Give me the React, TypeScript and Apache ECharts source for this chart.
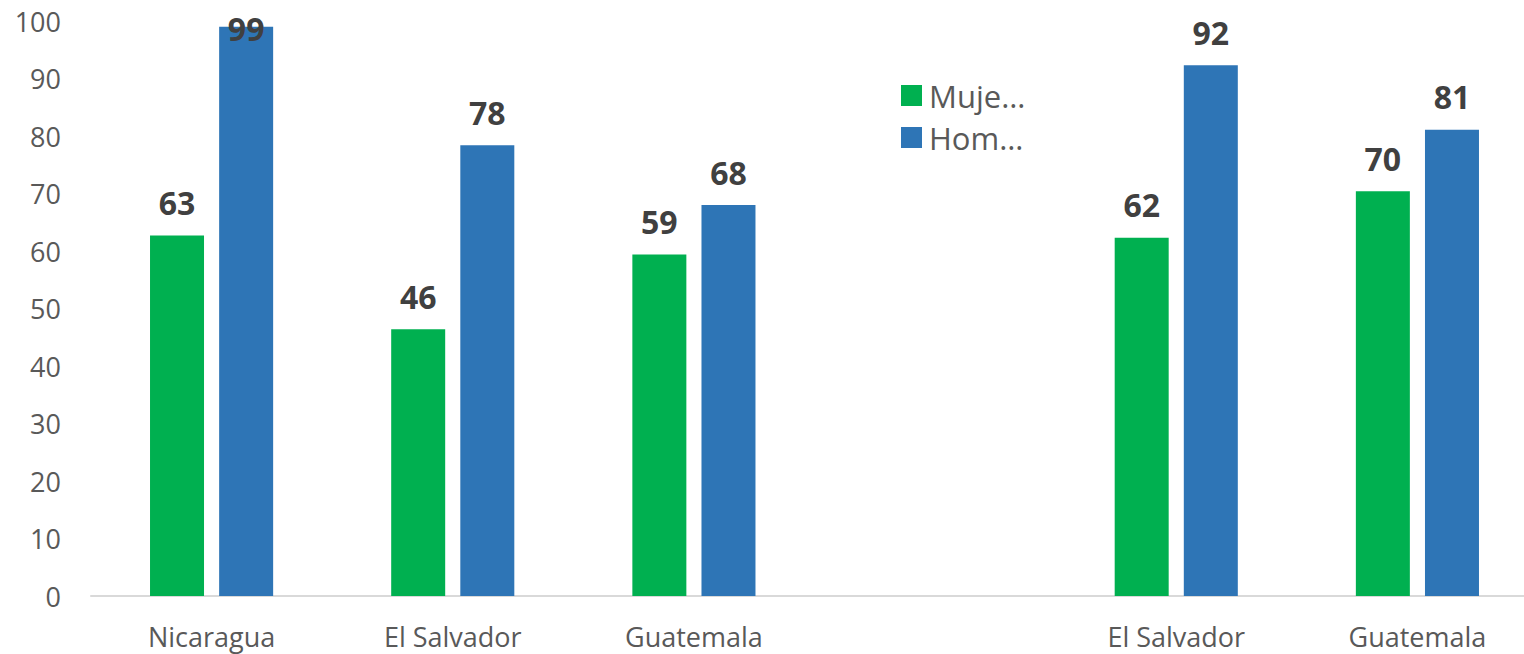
import React, { useEffect, useRef } from "react";
import * as echarts from "echarts";

const categories = ["Nicaragua", "El Salvador", "Guatemala", "", "El Salvador", "Guatemala"];
const mujeres: (number | null)[] = [62.7, 46.4, 59.4, null, 62.3, 70.4];
const hombres: (number | null)[] = [99.0, 78.4, 68.0, null, 92.3, 81.1];
const seriesNames = ["Mujeres", "Hombres"];
const legendLabels: Record<string, string> = { Mujeres: "Muje…", Hombres: "Hom…" };
const yTicks = { min: 0, max: 100, interval: 10 };

const FONT = "'Open Sans', 'Noto Sans', sans-serif";

export default function App() {
  const ref = useRef<HTMLDivElement>(null);
  useEffect(() => {
    if (!ref.current) return;
    const chart = echarts.init(ref.current, undefined, { renderer: "svg" });
    const labelBase = {
      show: true,
      position: "top" as const,
      distance: 17,
      fontFamily: FONT,
      fontSize: 32,
      fontWeight: "bold" as const,
      color: "#404040",
      formatter: (p: any) => String(Math.round(p.value)),
    };
    const mkData = (arr: (number | null)[]) =>
      arr.map((v) =>
        v !== null && v >= 95 ? { value: v, label: { offset: [0, 35] } } : v
      );
    chart.setOption({
      animation: false,
      textStyle: { fontFamily: FONT },
      grid: { left: 91, width: 1447, top: 21, bottom: 58, containLabel: false },
      legend: {
        orient: "vertical",
        left: 896,
        top: 75,
        itemWidth: 21,
        itemHeight: 21,
        itemGap: 11,
        icon: "rect",
        data: seriesNames,
        formatter: (n: string) => legendLabels[n] || n,
        textStyle: { fontFamily: FONT, fontSize: 31, color: "#595959", padding: [0, 0, 0, 2] },
      },
      xAxis: {
        type: "category",
        data: categories,
        axisLine: { show: true, lineStyle: { color: "#d9d9d9", width: 2 } },
        axisTick: { show: false },
        axisLabel: { fontFamily: FONT, fontSize: 27, color: "#595959", margin: 27 },
      },
      yAxis: {
        type: "value",
        min: yTicks.min,
        max: yTicks.max,
        interval: yTicks.interval,
        splitLine: { show: false },
        axisLine: { show: false },
        axisTick: { show: false },
        axisLabel: { fontFamily: FONT, fontSize: 27, color: "#595959", margin: 30 },
      },
      series: [
        {
          name: seriesNames[0],
          type: "bar",
          data: mkData(mujeres),
          itemStyle: { color: "#00b050" },
          barWidth: 54,
          barGap: "28%",
          label: labelBase,
        },
        {
          name: seriesNames[1],
          type: "bar",
          data: mkData(hombres),
          itemStyle: { color: "#2e75b6" },
          barWidth: 54,
          barGap: "28%",
          label: labelBase,
        },
      ],
    });
    return () => chart.dispose();
  }, []);
  return (
    <div
      style={{
        position: "fixed",
        left: 0,
        top: 0,
        width: 1524,
        height: 654,
        overflow: "hidden",
        background: "#fff",
      }}
    >
      <div ref={ref} style={{ width: 1560, height: 654 }} />
    </div>
  );
}
